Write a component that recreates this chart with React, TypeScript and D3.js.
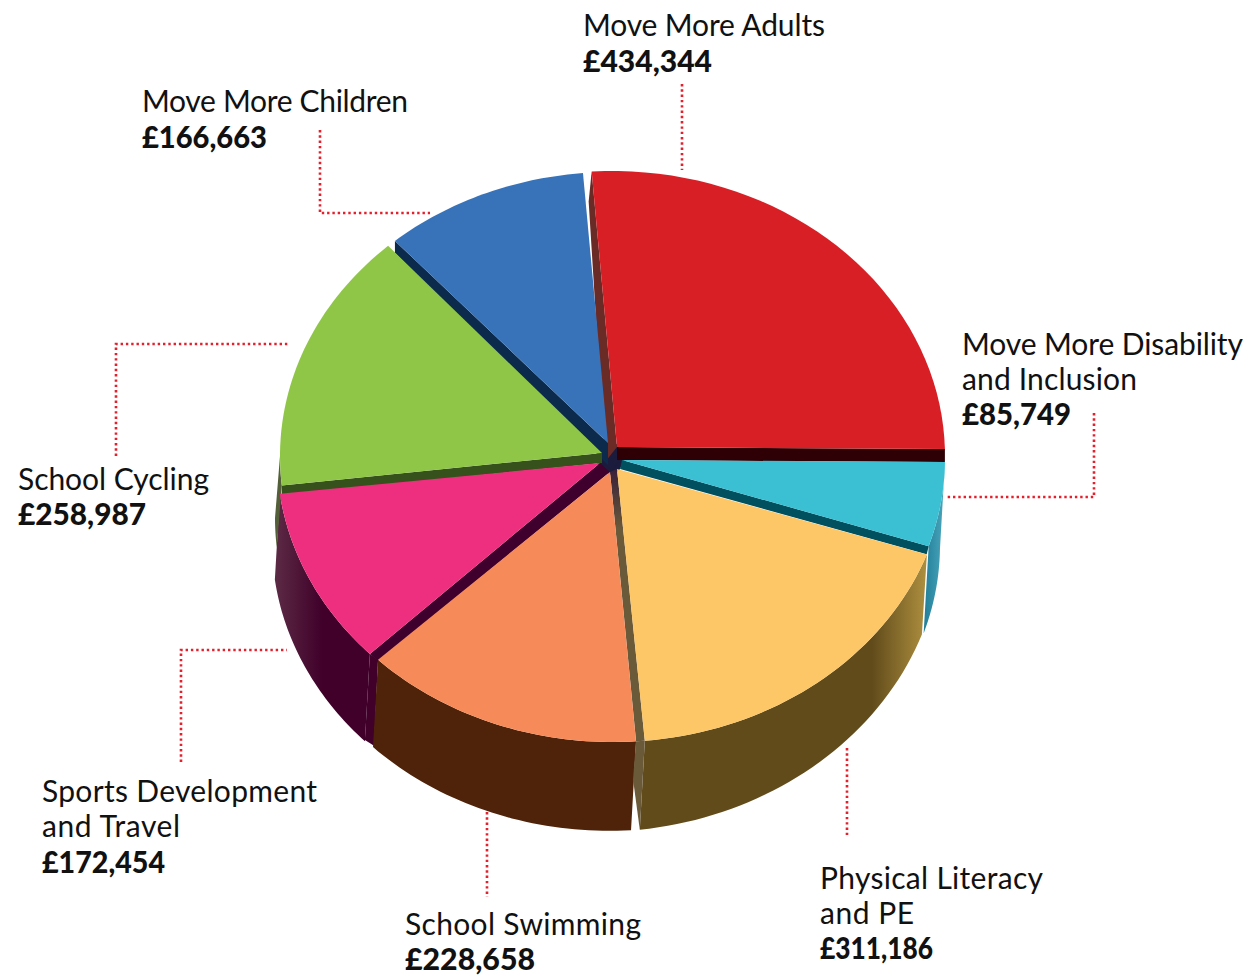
import * as d3 from "d3";

const names = ["Move More Adults", "Move More Disability and Inclusion", "Physical Literacy and PE", "School Swimming", "Sports Development and Travel", "School Cycling", "Move More Children"];
const values = [434344, 85749, 311186, 228658, 172454, 258987, 166663];
const valueLabels = ["£434,344", "£85,749", "£311,186", "£228,658", "£172,454", "£258,987", "£166,663"];
const faceColors = ["#d91f26", "#3bbfd2", "#fdc666", "#f68b59", "#ee2e7f", "#8fc647", "#3873b9"];

// label lines and where they sit
const labelLines = [
  ["Move More Adults"],
  ["Move More Disability", "and Inclusion"],
  ["Physical Literacy", "and PE"],
  ["School Swimming"],
  ["Sports Development", "and Travel"],
  ["School Cycling"],
  ["Move More Children"],
];
const labelX = [583, 962, 820, 405, 42, 18, 142];
const labelY = [36, 355, 889, 935, 802, 490, 112];
const valueY = [72, 425, 959, 970, 873, 525, 148];
// widths, the original typeface is not installed
const lineWidths = [[242], [281, 175], [223, 94], [236], [275, 138], [191], [266]];
const valueWidths = [129, 109, 113, 130, 123, 128, 125];

const leaders = [
  [[682, 84], [682, 170]],
  [[1094, 413], [1094, 497], [945, 497]],
  [[847, 748], [847, 835]],
  [[487, 812], [487, 897]],
  [[181, 762], [181, 650], [287, 650]],
  [[116, 456], [116, 344], [288, 344]],
  [[320, 130], [320, 213], [430, 213]],
];

// the pie is a hand-tweaked fake perspective, each slice gets nudged a bit
const cx = 612, cy = 458, rx = 333, ry = 285;
const rimShift = [[0, -2], [0, 0], [2, -1], [0, -1], [-2, -1.5], [1, -2], [0, -1]];
const apexShift = [[5, -11], [10, 2], [5, 11], [-2, 14], [-12, 5], [-10, -5], [-4, -15]];
const angleNudge = [[0, -2.2], [0, -1.4], [0.6, -2.3], [-1.13, -2], [-0.5, -1.6], [0, -2.8], [-1, -1.5]];

const rad = Math.PI / 180;
const pie = d3.pie<number>().sort(null).startAngle(-3.5 * rad).endAngle(356.5 * rad);
const arcs = pie(values);

const depth = d3.scaleLinear().domain([110, 175, 264]).range([80, 89, 86]).clamp(true);
const line = d3.line();

type P = [number, number];

function rimPoint(i: number, deg: number): P {
  return [cx + rimShift[i][0] + rx * Math.sin(deg * rad), cy + rimShift[i][1] - ry * Math.cos(deg * rad)];
}
function angles(i: number): [number, number] {
  return [arcs[i].startAngle / rad + angleNudge[i][0], arcs[i].endAngle / rad + angleNudge[i][1]];
}
function apex(i: number): P {
  return [cx + apexShift[i][0], cy + apexShift[i][1]];
}
function rimPoints(i: number, a0?: number, a1?: number): P[] {
  const [s, e] = angles(i);
  const from = a0 ?? s, to = a1 ?? e;
  return d3.range(0, 41).map((k) => rimPoint(i, from + ((to - from) * k) / 40));
}
function facePath(i: number) {
  return line([apex(i), ...rimPoints(i)]) + "Z";
}
function wallPath(i: number, a0?: number, a1?: number, d?: number) {
  const [s, e] = angles(i);
  const from = a0 ?? s, to = a1 ?? e;
  const top = rimPoints(i, from, to);
  const bottom = top.map((p, k): P => [p[0] - 5, p[1] + (d ?? depth(from + ((to - from) * k) / 40))]).reverse();
  return line([...top, ...bottom]) + "Z";
}
function bandPath(i: number, edge: "start" | "end", vA: P, vR: P) {
  const [s, e] = angles(i);
  const r = rimPoint(i, edge === "start" ? s : e);
  const a = apex(i);
  return line([a, r, [r[0] + vR[0], r[1] + vR[1]], [a[0] + vA[0], a[1] + vA[1]]]) + "Z";
}

const orangeRim = rimPoint(3, angles(3)[0]);
const orangeRimEnd = rimPoint(3, angles(3)[1]);
const pinkRim = rimPoint(4, angles(4)[0]);
const yellowRim = rimPoint(2, angles(2)[1]);

const font = "Lato, sans-serif";

export default function App() {
  return (
    <svg width={1249} height={977} viewBox="0 0 1249 977" style={{ position: "absolute", left: 0, top: 0, background: "#fff" }}>
      <defs>
        <linearGradient id="pinkWall" gradientUnits="userSpaceOnUse" x1={275} x2={322} y1={0} y2={0}>
          <stop offset="0" stopColor="#5c2a45" />
          <stop offset="1" stopColor="#40002a" />
        </linearGradient>
        <linearGradient id="yellowWall" gradientUnits="userSpaceOnUse" x1={872} x2={925} y1={0} y2={0}>
          <stop offset="0" stopColor="#614b1a" />
          <stop offset="1" stopColor="#ab8d3e" />
        </linearGradient>
        <linearGradient id="tealWall" gradientUnits="userSpaceOnUse" x1={922} x2={945} y1={0} y2={0}>
          <stop offset="0" stopColor="#1f7a94" />
          <stop offset="1" stopColor="#4aa7bd" />
        </linearGradient>
        <linearGradient id="innerTaupe" gradientUnits="userSpaceOnUse" x1={0} x2={0} y1={470} y2={530}>
          <stop offset="0" stopColor="#3a2038" />
          <stop offset="1" stopColor="#6b5a3a" />
        </linearGradient>
      </defs>

      {/* outer walls */}
      <path d={wallPath(1, undefined, undefined, 87)} fill="url(#tealWall)" />
      <path d={wallPath(4)} fill="url(#pinkWall)" />
      <path
        d={line([pinkRim, orangeRimEnd, [orangeRimEnd[0] - 4, orangeRimEnd[1] + 86], [pinkRim[0] - 5, pinkRim[1] + 86]]) + "Z"}
        fill="#40002a"
      />
      <path d={wallPath(5, angles(5)[0], 270, 62)} fill="#535f38" />
      <path d={wallPath(3)} fill="#4f2309" />
      <path d={wallPath(2)} fill="url(#yellowWall)" />

      {/* hub and inner walls */}
      <path
        d={line(apexShift.map((s): P => [cx + s[0], cy + s[1]])) + "Z"}
        fill="#1b1b3d"
        stroke="#1b1b3d"
        strokeWidth={5}
      />
      <path d={bandPath(0, "start", [-12, 15], [-3, 30])} fill="#6a2a26" />
      <path d={bandPath(0, "end", [0, 13], [0, 13])} fill="#2e0005" />
      <path d={bandPath(6, "start", [0, 22], [0, 12])} fill="#0b2a4c" />
      <path d={bandPath(5, "start", [0, 10], [0, 10])} fill="#36511c" />
      <path d={bandPath(4, "start", [10, 9], [8, 7])} fill="#40002e" />
      <path d={bandPath(1, "end", [-2, 9], [-2, 8])} fill="#00505f" />
      <path d={line([apex(3), orangeRim, yellowRim, apex(2)]) + "Z"} fill="url(#innerTaupe)" />
      <path
        d={line([orangeRim, yellowRim, [yellowRim[0] - 5, yellowRim[1] + 89], [orangeRim[0] - 3, orangeRim[1] + 38]]) + "Z"}
        fill="#6b5a3a"
      />

      {/* top faces */}
      {values.map((_, i) => (
        <path key={names[i]} d={facePath(i)} fill={faceColors[i]} />
      ))}

      {/* leaders */}
      {leaders.map((pts, i) => (
        <path
          key={i}
          d={line(pts as P[]) ?? ""}
          fill="none"
          stroke="#e4202c"
          strokeWidth={2.6}
          strokeDasharray="2.4 2.9"
        />
      ))}

      {/* labels */}
      {labelLines.map((lines, i) => (
        <g key={i} fontFamily={font} fontSize={30} fill="#111">
          {lines.map((t, k) => (
            <text key={t} x={labelX[i]} y={labelY[i] + k * 35} textLength={lineWidths[i][k]} lengthAdjust="spacing">
              {t}
            </text>
          ))}
          <text x={labelX[i]} y={valueY[i]} fontWeight={900} textLength={valueWidths[i]} lengthAdjust="spacingAndGlyphs">
            {valueLabels[i]}
          </text>
        </g>
      ))}
    </svg>
  );
}
